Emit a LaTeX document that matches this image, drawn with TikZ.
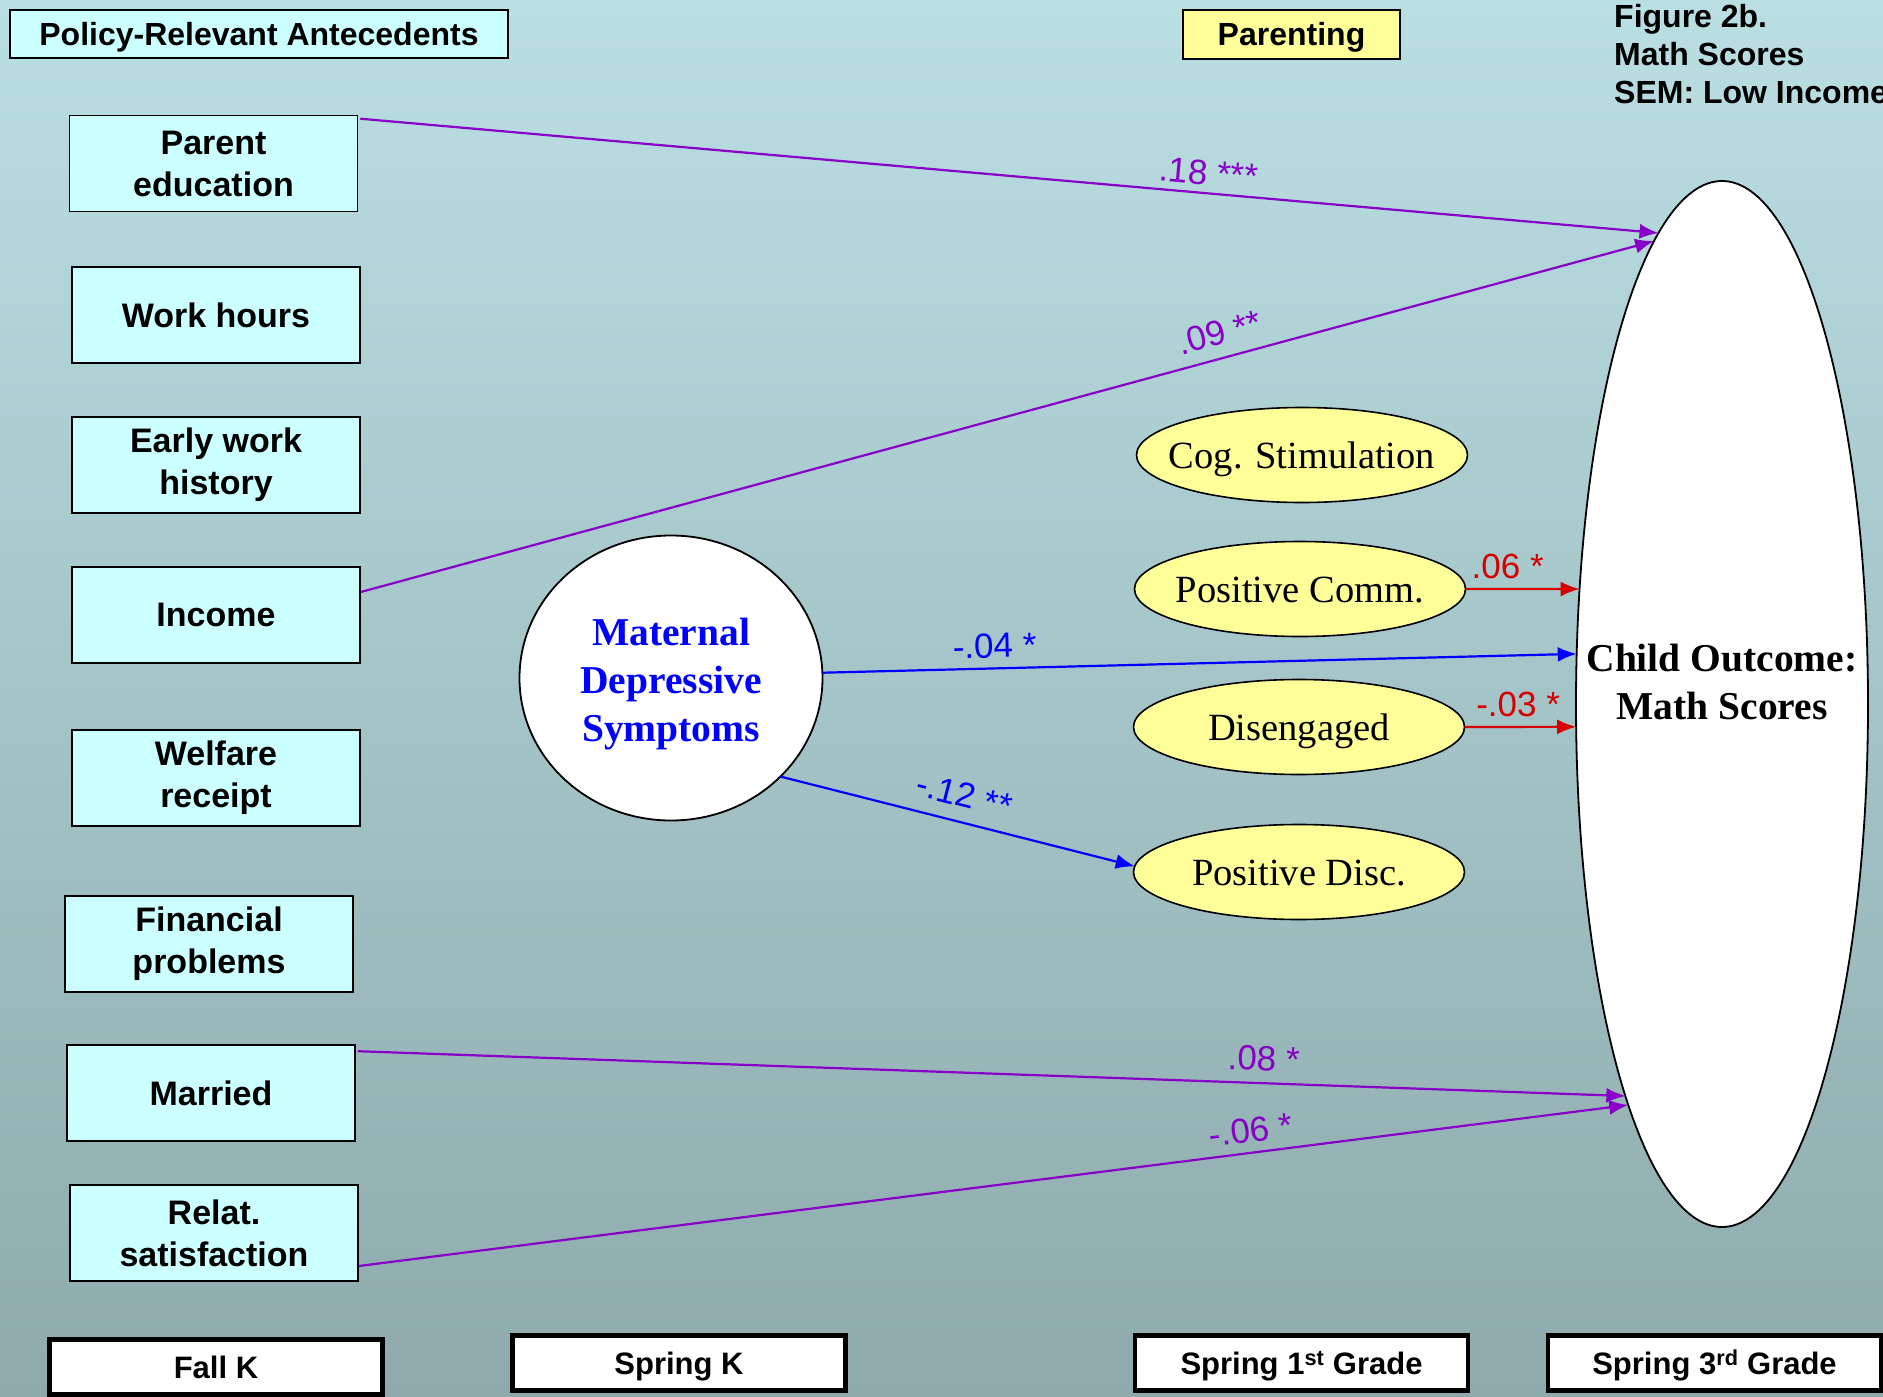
\documentclass[tikz,border=0pt]{standalone}
\usepackage{fontspec}
\setmainfont{Liberation Serif}
\setsansfont{Liberation Sans}
\usetikzlibrary{arrows.meta,calc,shapes.geometric}
\definecolor{bgtop}{RGB}{186,223,227}
\definecolor{bgbot}{RGB}{142,170,172}
\definecolor{boxcyan}{RGB}{204,255,255}
\definecolor{yel}{RGB}{255,255,153}
\definecolor{purp}{RGB}{136,0,200}
\definecolor{redc}{RGB}{215,0,0}
\definecolor{bluec}{RGB}{0,0,255}
\newcommand\setfs[2]{\fontsize{#1}{#2}\selectfont}
\tikzset{
  box/.style={draw=black, line width=1.6pt, fill=boxcyan, minimum width=288pt, minimum height=96pt,
    align=center, inner sep=0pt, font=\sffamily\bfseries\setfs{34}{42}},
  hdrbox/.style={draw=black, line width=1.6pt, inner sep=0pt, text height=23pt, text depth=0pt,
    font=\sffamily\bfseries\setfs{32}{37}},
  tbox/.style={draw=black, line width=4.5pt, fill=white, minimum width=333pt, minimum height=55pt,
    inner sep=0pt, text height=23pt, text depth=0pt, font=\sffamily\bfseries\setfs{31}{37}},
  pell/.style={ellipse, draw=black, line width=1.6pt, fill=yel, minimum width=331pt, minimum height=95pt, inner sep=0pt, outer sep=0pt},
  pelltext/.style={font=\rmfamily\setfs{38.5}{46}, inner sep=0pt, text height=26pt, text depth=0pt},
  outc/.style={ellipse, draw=black, line width=1.8pt, fill=white, minimum width=292pt, minimum height=1046pt, inner sep=0pt, outer sep=0pt},
  mdsc/.style={ellipse, draw=black, line width=1.8pt, fill=white, minimum width=303pt, minimum height=285pt, inner sep=0pt, outer sep=0pt},
  arrbase/.style={-{Latex[length=19pt,width=15pt]}, line width=2.2pt},
  parr/.style={arrbase, draw=purp},
  barr/.style={arrbase, draw=bluec},
  rarr/.style={arrbase, draw=redc},
  lbl/.style={font=\sffamily\setfs{35}{40}, inner sep=1pt},
  plbl/.style={lbl, text=purp},
  blbl/.style={lbl, text=bluec},
  rlbl/.style={lbl, text=redc},
}
\begin{document}
\begin{tikzpicture}[x=1pt,y=-1pt]
\shade[top color=bgtop, bottom color=bgbot] (0,0) rectangle (1883,1397);
\useasboundingbox (0,0) rectangle (1883,1397);

% header boxes
\node[hdrbox, fill=boxcyan, minimum width=498pt, minimum height=48pt] (pra) at (259,34) {Policy-Relevant Antecedents};
\node[hdrbox, fill=yel, minimum width=217pt, minimum height=49pt] (par) at (1291.5,34.5) {Parenting};
\node[anchor=north west, align=left, inner sep=0pt, font=\sffamily\bfseries\setfs{32}{38}] (fig) at (1614,4)
  {Figure 2b.\\Math Scores\\SEM: Low Income};

% antecedent boxes
\node[box] (pe) at (213.5,163.5) {Parent\\education};
\node[box] (wh) at (216,315) {Work hours};
\node[box] (ew) at (216,465) {Early work\\history};
\node[box] (inc) at (216,615) {Income};
\node[box] (wr) at (216,778) {Welfare\\receipt};
\node[box] (fp) at (209,944) {Financial\\problems};
\node[box] (mar) at (211,1093) {Married};
\node[box] (rs) at (214,1233) {Relat.\\satisfaction};

% outcome
\node[outc, label={[inner sep=0pt, yshift=22pt, align=center, font=\rmfamily\bfseries\setfs{39.5}{48}]center:{Child Outcome:\\Math Scores}}] (out) at (1722,704) {};
% arrow end points on the outcome ellipse
\coordinate (t1) at ($(out.center)+(115.77:146pt and 523pt)$);
\coordinate (t2) at ($(out.center)+(117.7:146pt and 523pt)$);
\coordinate (t3) at ($(out.center)+(174.5:146pt and 523pt)$);
\coordinate (t5) at ($(out.center)+(167.3:146pt and 523pt)$);
\coordinate (t6) at ($(out.center)+(182.5:146pt and 523pt)$);
\coordinate (t7) at ($(out.center)+(228.55:146pt and 523pt)$);
\coordinate (t8) at ($(out.center)+(230.06:146pt and 523pt)$);

% maternal depressive symptoms
\node[mdsc, label={[inner sep=0pt, yshift=-6pt, align=center, text=bluec, font=\rmfamily\bfseries\setfs{39.5}{48}]center:{Maternal\\Depressive\\Symptoms}}] (mds) at (671,678) {};

% parenting ellipses
\node[pell, label={[pelltext]center:Cog. Stimulation}] (cs) at (1302,455) {};
\node[pell, label={[pelltext]center:Positive Comm.}] (pc) at (1300,589) {};
\node[pell, label={[pelltext]center:Disengaged}] (de) at (1299,727) {};
\node[pell, label={[pelltext]center:Positive Disc.}] (pd) at (1299,872) {};

% time boxes
\node[tbox] (fk) at (216,1367) {Fall K};
\node[tbox] (sk) at (679,1363) {Spring K};
\node[tbox] (s1) at (1301.5,1363) {Spring 1\textsuperscript{st} Grade};
\node[tbox] (s3) at (1714.5,1363) {Spring 3\textsuperscript{rd} Grade};

% paths
\draw[parr] ($(pe.north east)+(2,4)$) -- node[plbl, pos=0.652, sloped, above=6pt] {.18 ***} (t1);
\draw[parr] ($(inc.east)+(0,-23)$) -- node[plbl, pos=0.669, sloped, above=11pt] {.09 **} (t2);
\draw[barr] (mds.2) -- node[blbl, pos=0.229, sloped, above=8pt] {-.04 *} (t3);
\draw[barr] (mds.-42.3) -- node[blbl, pos=0.5, sloped, above=13pt] {-.12 **} (pd.178.3);
\draw[rarr] (pc.east) -- node[rlbl, pos=0.37, above=8pt] {.06 *} (t5);
\draw[rarr] (de.east) -- node[rlbl, pos=0.48, above=8pt] {-.03 *} (t6);
\draw[parr] ($(mar.north east)+(2,7)$) -- node[plbl, pos=0.714, sloped, above=10pt] {.08 *} (t7);
\draw[parr] ($(rs.east)+(0,33)$) -- node[plbl, pos=0.705, sloped, above=8pt] {-.06 *} (t8);
\end{tikzpicture}
\end{document}
